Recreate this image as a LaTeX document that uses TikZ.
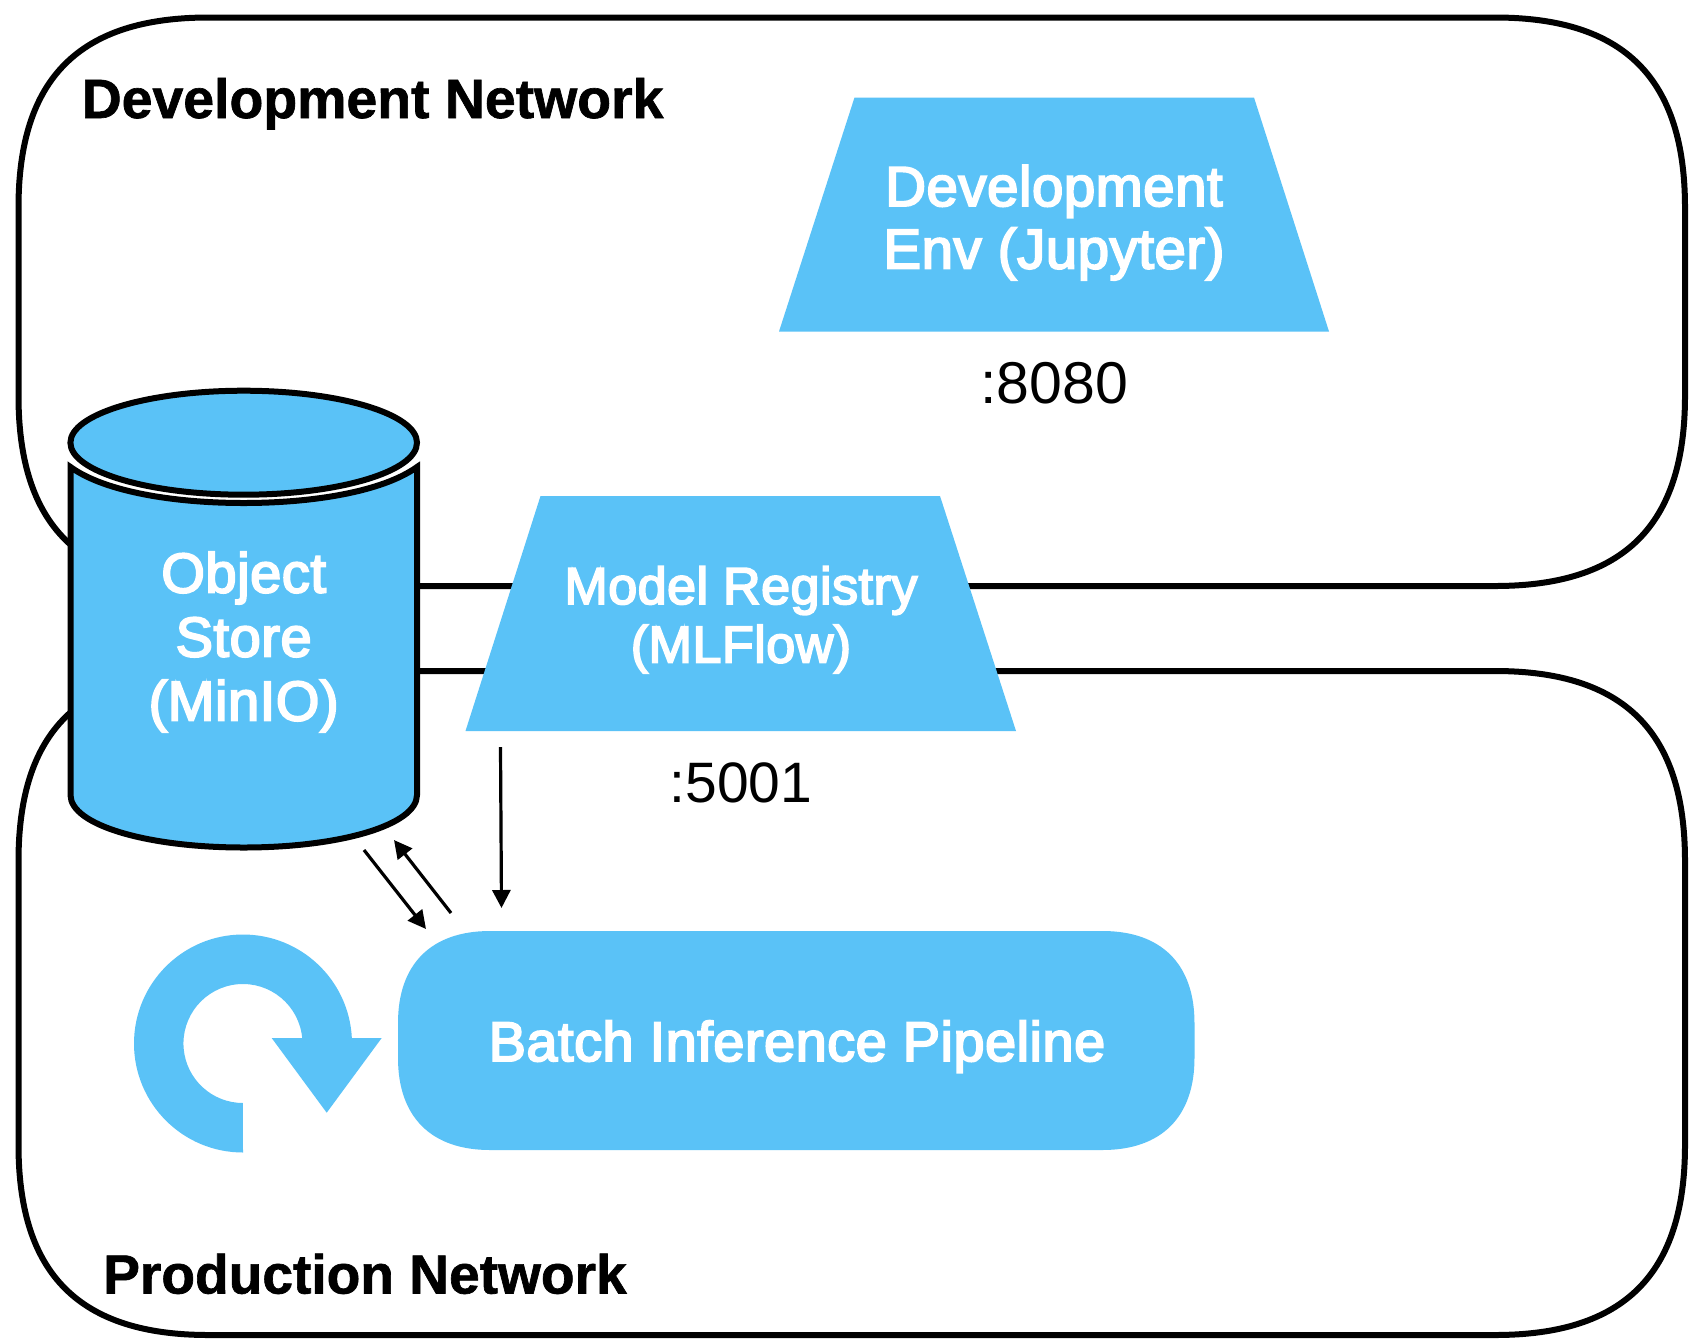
\documentclass[tikz,border=0pt]{standalone}
\usepackage{fontspec}
\usetikzlibrary{arrows.meta}
\setmainfont{Liberation Sans}
\newfontfamily\semibold[FakeBold=3.5,LetterSpace=1]{Liberation Sans}
\newfontfamily\heavy[FakeBold=1.2]{Liberation Sans Bold}
\definecolor{skyfill}{HTML}{5AC2F7}
\newcommand{\squircleshape}[7]{% style x1 y1(top) x2 y2(bottom) r handle
  \pgfmathsetmacro{\qa}{#6*#7}
  \path[#1] (#2+#6,#3) -- (#4-#6,#3)
  .. controls (#4-\qa,#3) and (#4,#3-\qa) .. (#4,#3-#6)
  -- (#4,#5+#6)
  .. controls (#4,#5+\qa) and (#4-\qa,#5) .. (#4-#6,#5)
  -- (#2+#6,#5)
  .. controls (#2+\qa,#5) and (#2,#5+\qa) .. (#2,#5+#6)
  -- (#2,#3-#6)
  .. controls (#2,#3-\qa) and (#2+\qa,#3) .. (#2+#6,#3) -- cycle;}
\tikzset{
  x=1pt,y=1pt,
  netbox/.style={draw=black,line width=6pt,fill=white},
  bluefill/.style={fill=skyfill,draw=none},
  cylline/.style={fill=skyfill,draw=black,line width=6pt,line join=miter},
  whitetext/.style={text=white,align=center,inner sep=0pt,anchor=base},
  title/.style={text=black,inner sep=0pt,anchor=base west},
  port/.style={text=black,inner sep=0pt,anchor=base},
  flow/.style={line width=3.2pt,-{Triangle[length=18pt,width=18pt]}}
}
\begin{document}
\begin{tikzpicture}
\useasboundingbox (0,0) rectangle (1698,-1342);
% network boxes
\squircleshape{netbox}{18.5}{-17.5}{1685}{-586}{190}{0.32}
\squircleshape{netbox}{18.5}{-671}{1685}{-1335}{190}{0.32}
\node[title,font=\heavy\fontsize{55.4}{60}\selectfont] (devtitle) at (81.5,-118) {Development Network};
\node[title,font=\heavy\fontsize{55.1}{60}\selectfont] (prodtitle) at (103,-1293.5) {Production Network};
% cylinder
\path[cylline] (70.5,-467) .. controls (105,-492) and (175,-503) .. (243.7,-503)
   .. controls (312,-503) and (382,-492) .. (417,-467)
   -- (417,-795) .. controls (417,-825) and (340,-847.5) .. (243.7,-847.5)
   .. controls (147,-847.5) and (70.5,-825) .. (70.5,-795) -- cycle;
\path[cylline] (243.7,-442.7) ellipse [x radius=173.3,y radius=52];
\node[whitetext,font=\semibold\fontsize{56}{60}\selectfont] (store1) at (243.7,-592.5) {Object};
\node[whitetext,font=\semibold\fontsize{56}{60}\selectfont] (store2) at (243.7,-656.5) {Store};
\node[whitetext,font=\semibold\fontsize{56}{60}\selectfont] (store3) at (243.7,-720.5) {(MinIO)};
% trapezoids
\path[bluefill] (854.5,-97.5) -- (1254,-97.5) -- (1329,-331.5) -- (779,-331.5) -- cycle;
\node[whitetext,font=\semibold\fontsize{56.3}{60}\selectfont] (dev1) at (1054,-206) {Development};
\node[whitetext,font=\semibold\fontsize{56.3}{60}\selectfont] (dev2) at (1054,-268.5) {Env (Jupyter)};
\node[port,font=\fontsize{59}{60}\selectfont] (port8080) at (1054,-403) {:8080};
\path[bluefill] (540.5,-496) -- (940,-496) -- (1016,-731) -- (465.5,-731) -- cycle;
\node[whitetext,font=\semibold\fontsize{52}{60}\selectfont] (reg1) at (741,-604) {Model Registry};
\node[whitetext,font=\semibold\fontsize{52}{60}\selectfont] (reg2) at (741,-662.5) {(MLFlow)};
\node[port,font=\fontsize{57}{60}\selectfont] (port5001) at (741,-802.5) {:5001};
% batch pipeline
\squircleshape{bluefill}{398}{-931}{1194.5}{-1150}{92}{0.36}
\node[whitetext,font=\semibold\fontsize{55.8}{60}\selectfont] (batch) at (797,-1061) {Batch Inference Pipeline};
% loop arrow
\path[bluefill] (243,-1152.5) arc[start angle=270,delta angle=-267.11,radius=109]
  -- (381.7,-1038) -- (326.7,-1112.7) -- (271.7,-1038) -- (302.2,-1038)
  arc[start angle=5.3,delta angle=264.7,radius=59.5] -- cycle;
% connectors
\coordinate (regout) at (500.5,-747);
\coordinate (batchin) at (501.5,-908);
\coordinate (storeout) at (364,-850);
\coordinate (batchina) at (426,-929);
\coordinate (batchout) at (451,-913);
\coordinate (storein) at (394,-840);
\draw[flow] (regout) -- (batchin);
\draw[flow] (storeout) -- (batchina);
\draw[flow] (batchout) -- (storein);
\end{tikzpicture}
\end{document}
